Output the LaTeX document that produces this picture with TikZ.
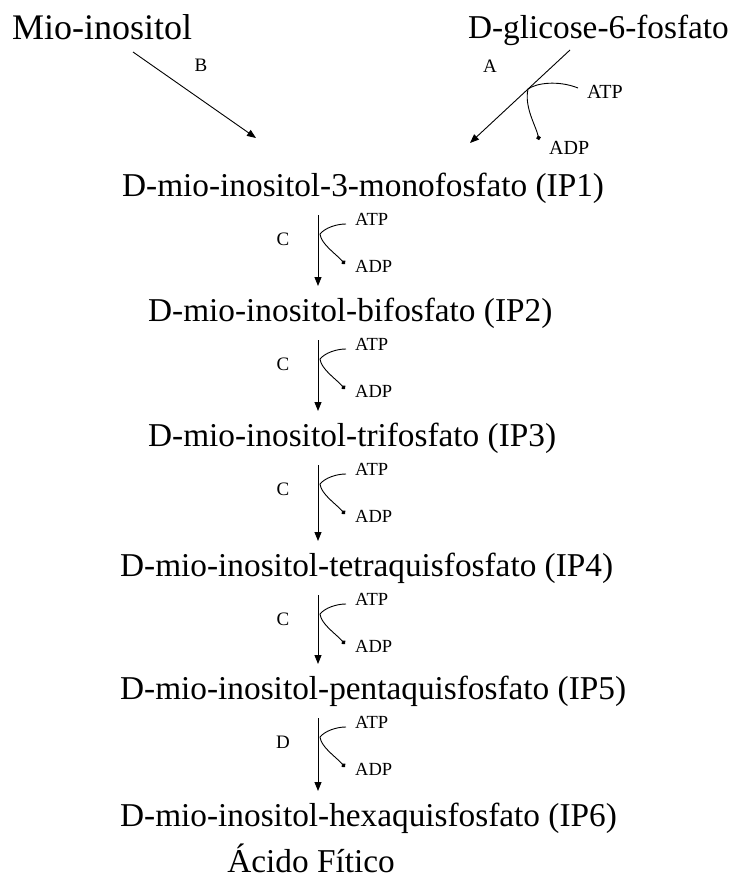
\documentclass[tikz,border=0pt]{standalone}
\usepackage{fontspec}
\setmainfont{Liberation Serif}
\usetikzlibrary{arrows.meta,calc}

% One phosphorylation step: arrow from #1 down to #2, enzyme #3, names prefixed #4
\newcommand{\kinstep}[4]{%
  \coordinate (#4top) at ($(#1.base -| axis)+(0,19)$);
  \coordinate (#4bot) at ($(#2.base -| axis)+(0,-35)$);
  \draw[flow] (#4top) -- (#4bot);
  \node[enz] (#4e) at ($(#4top)+(-35,24)$) {#3};
  \node[cof] (#4atp) at ($(#4top)+(37,4)$) {ATP};
  \node[cof] (#4adp) at ($(#4top)+(37,51)$) {ADP};
  \coordinate (#4br) at ($(#4top)+(2,19)$);
  \draw[side] ($(#4atp.west)+(-9,5)$) .. controls +(-10,0) and +(5,-6) .. (#4br)
    .. controls +(1,10) and +(-9,-10) .. ($(#4adp.west)+(-10,-2)$);
}

\begin{document}
\begin{tikzpicture}[x=1pt,y=-1pt,
  met/.style={inner sep=0pt, font=\fontsize{33.3}{36}\selectfont, anchor=base west},
  enz/.style={inner sep=0pt, font=\fontsize{19}{20}\selectfont},
  cof/.style={inner sep=0pt, font=\fontsize{18.5}{20}\selectfont, anchor=west},
  bigcof/.style={cof, font=\fontsize{20}{22}\selectfont},
  wire/.style={line width=0.9pt},
  flow/.style={wire, -{Triangle[length=9pt,width=7pt]}},
  side/.style={wire, -{Circle[length=4.5pt]}}]
\useasboundingbox (0,0) rectangle (733,883);
\fill[white] (0,0) rectangle (733,883);

% substrates
\node[met, font=\fontsize{36}{40}\selectfont] (mio) at (12,40) {Mio-inositol};
\node[met, anchor=base east] (g6p) at (729,39) {D-glicose-6-fosfato};

% inositol phosphates
\node[met] (ip1) at (122,196) {D-mio-inositol-3-monofosfato (IP1)};
\node[met] (ip2) at (148,321) {D-mio-inositol-bifosfato (IP2)};
\node[met] (ip3) at (148,446) {D-mio-inositol-trifosfato (IP3)};
\node[met] (ip4) at (120,576) {D-mio-inositol-tetraquisfosfato (IP4)};
\node[met] (ip5) at (120,699) {D-mio-inositol-pentaquisfosfato (IP5)};
\node[met] (ip6) at (120,826) {D-mio-inositol-hexaquisfosfato (IP6)};
\node[met, anchor=base] (fit) at (311,872) {Ácido Fítico};

% route B
\coordinate (bstart) at (133,52);
\coordinate (bend) at (256,138);
\draw[flow] (bstart) -- (bend);
\node[enz] (lb) at (201,65) {B};

% route A with ATP -> ADP
\coordinate (astart) at (570,50);
\coordinate (aend) at (470,143);
\draw[flow] (astart) -- (aend);
\node[enz] (la) at (490,66) {A};
\coordinate (abr) at ($(astart)!0.42!(aend)$);
\node[bigcof] (atp0) at (587,92) {ATP};
\node[bigcof] (adp0) at (549,148) {ADP};
\draw[side] ($(atp0.west)+(-9,-4)$) .. controls +(-20,-8) and +(8,-6) .. (abr)
  .. controls +(-4,18) and +(-3,-14) .. ($(adp0.west)+(-10,-8)$);

% kinase steps
\coordinate (axis) at (318,0);
\kinstep{ip1}{ip2}{C}{s1}
\kinstep{ip2}{ip3}{C}{s2}
\kinstep{ip3}{ip4}{C}{s3}
\kinstep{ip4}{ip5}{C}{s4}
\kinstep{ip5}{ip6}{D}{s5}
\end{tikzpicture}
\end{document}
